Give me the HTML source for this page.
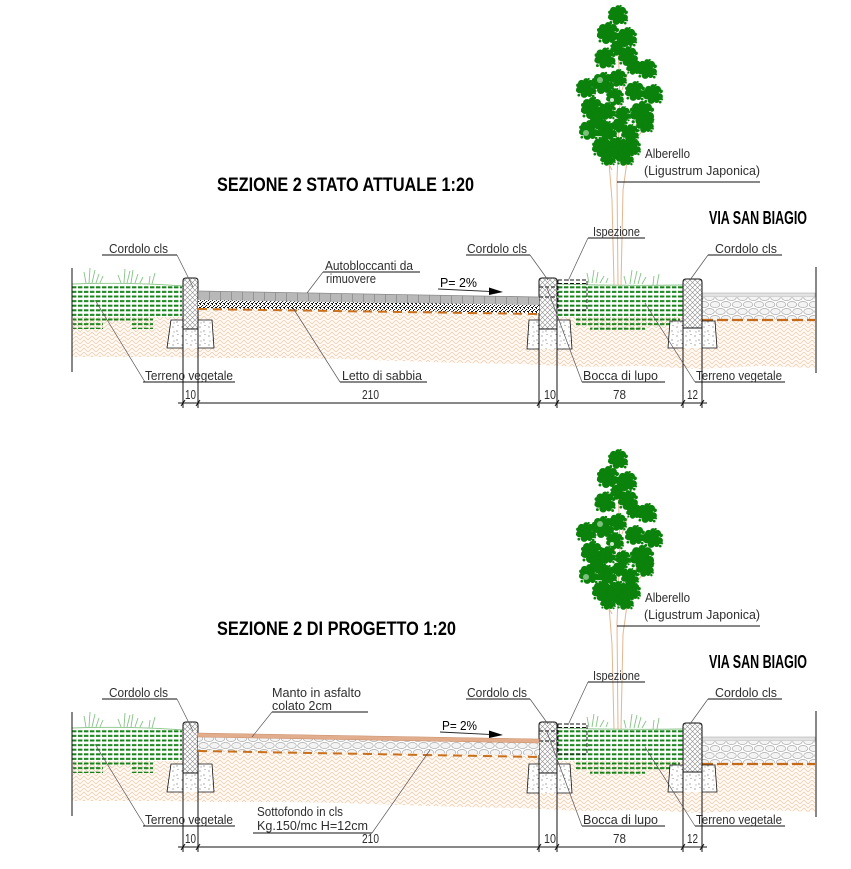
<!DOCTYPE html>
<html><head><meta charset="utf-8">
<style>
html,body{margin:0;padding:0;background:#fff}
svg{display:block}
text{font-family:"Liberation Sans",sans-serif}
.l{font-size:12.5px;fill:#2e2e2e}
.b{font-size:12.5px;fill:#000}
.t{font-size:19px;font-weight:bold;fill:#000}
</style></head>
<body>
<svg width="851" height="869" viewBox="0 0 851 869" xmlns="http://www.w3.org/2000/svg">
<defs>
  <pattern id="soil" width="8" height="8" patternUnits="userSpaceOnUse">
    <rect width="8" height="8" fill="#fffaf6"/>
    <path d="M0,8 L4,4 L8,8 M0,4 L4,0 L8,4" stroke="#f0c7a4" stroke-width="0.7" fill="none"/>
  </pattern>
  <pattern id="hatch" width="5" height="5" patternUnits="userSpaceOnUse">
    <rect width="5" height="5" fill="#fff"/>
    <path d="M0,0 L5,5 M5,0 L0,5" stroke="#8a8a8a" stroke-width="0.6"/>
  </pattern>
  <pattern id="stip" width="9" height="9" patternUnits="userSpaceOnUse">
    <rect width="9" height="9" fill="#fff"/>
    <circle cx="2" cy="3" r="0.55" fill="#333"/>
    <circle cx="6" cy="7" r="0.55" fill="#333"/>
    <circle cx="7" cy="1.5" r="0.45" fill="#555"/>
    <circle cx="3" cy="8" r="0.45" fill="#555"/>
  </pattern>
  <pattern id="grav" width="4" height="4" patternUnits="userSpaceOnUse">
    <rect width="4" height="4" fill="#fff"/>
    <rect x="0" y="0" width="1" height="1" fill="#111"/>
    <rect x="2" y="1" width="1.2" height="1" fill="#111"/>
    <rect x="1" y="2" width="1" height="1" fill="#111"/>
    <rect x="3" y="3" width="1" height="1" fill="#111"/>
    <rect x="0" y="3" width="1" height="1" fill="#111"/>
  </pattern>
  <pattern id="cob" width="11" height="14" patternUnits="userSpaceOnUse">
    <rect width="11" height="14" fill="#fff"/>
    <ellipse cx="5.5" cy="3.5" rx="4.8" ry="3" fill="#f4f4f4" stroke="#a8a8a8" stroke-width="0.7"/>
    <ellipse cx="0" cy="10.5" rx="4.8" ry="3" fill="#f4f4f4" stroke="#a8a8a8" stroke-width="0.7"/>
    <ellipse cx="11" cy="10.5" rx="4.8" ry="3" fill="#f4f4f4" stroke="#a8a8a8" stroke-width="0.7"/>
  </pattern>
  <pattern id="grn" width="6" height="4.6" patternUnits="userSpaceOnUse">
    <rect x="0" y="1.1" width="4.4" height="2" fill="#17841a"/>
  </pattern>
  <pattern id="joint" width="11" height="40" patternUnits="userSpaceOnUse">
    <path d="M0.5,0 V40" stroke="#8a8a8a" stroke-width="0.8"/>
  </pattern>
  <g id="lf" fill="#0b820b">
    <circle r="6.5"/><circle cx="-5" cy="-5" r="4"/><circle cx="5" cy="-5" r="4"/>
    <circle cx="-7" cy="2" r="4"/><circle cx="7" cy="3" r="4"/><circle cx="-2" cy="7" r="4"/>
    <circle cx="4" cy="7" r="3"/><circle cx="0" cy="-8" r="3"/><circle cx="-9" cy="-3" r="2"/>
    <circle cx="9" cy="-3" r="2"/><circle cx="-8" cy="8" r="1.5"/><circle cx="8" cy="9" r="1.5"/>
    <circle cx="-10" cy="3" r="1.2"/><circle cx="3" cy="-10" r="1.2"/><circle cx="10" cy="6" r="1.2"/>
  </g>
</defs>

<rect width="851" height="869" fill="#fff"/>

<g id="base">
  <!-- soil -->
  <path d="M72,316 L198,316 L198,300 L557,300 L557,316 L702,316 L702,300 L815,300 L815,368 L760,366 L700,369 L640,366 L580,367 L520,364 L460,363 L400,361 L340,359 L280,358 L220,358 L160,357 L110,357 L72,357 Z" fill="url(#soil)"/>
  <!-- green areas -->
  <rect x="72" y="285" width="110" height="32" fill="#fff"/>
  <rect x="72" y="285" width="110" height="33" fill="url(#grn)"/>
  <rect x="73" y="318" width="30" height="11" fill="url(#grn)"/>
  <rect x="103" y="318" width="29" height="5" fill="url(#grn)"/>
  <rect x="132" y="318" width="21" height="11" fill="url(#grn)"/>
  <rect x="558" y="285" width="125" height="32" fill="#fff"/>
  <rect x="558" y="285" width="125" height="33" fill="url(#grn)"/>
  <rect x="575" y="318" width="105" height="8" fill="url(#grn)"/>
  <rect x="590" y="326" width="55" height="4" fill="url(#grn)"/>
  <!-- grass -->
  <g stroke="#86c486" stroke-width="0.9" fill="none">
    <path d="M72,284 Q130,282 183,286"/>
    <path d="M557,284 Q620,286 683,285"/>
    <path d="M86,283 L84,272 M89,283 L90,268 M92,283 L95,270 M96,283 L99,274 M100,283 L103,276 M121,283 L118,275 M124,283 L125,269 M127,283 L130,271 M131,283 L133,270 M135,283 L138,274 M140,283 L143,277 M149,284 L150,276 M152,284 L155,273"/>
    <path d="M589,283 L587,273 M592,283 L594,270 M596,283 L598,272 M600,283 L604,276 M606,283 L608,278 M626,284 L624,276 M630,284 L632,270 M634,284 L637,271 M638,284 L641,273 M642,284 L646,277 M653,285 L654,276 M657,285 L659,274"/>
  </g>
  <!-- right road -->
  <rect x="702" y="293" width="113" height="4" fill="#e2e2e2" stroke="#a0a0a0" stroke-width="0.5"/>
  <rect x="702" y="297" width="113" height="22" fill="url(#cob)"/>
  <path d="M702,320 H815" stroke="#c46a18" stroke-width="2.2" stroke-dasharray="11 4"/>
  <!-- tree -->
  <g stroke="#e3b690" stroke-width="1" fill="none">
    <path d="M614,285 L612,200 L608,150 L600,120"/>
    <path d="M618,285 L617,180 L620,100 L618,40"/>
    <path d="M621,285 L623,190 L630,140 L640,115"/>
    <path d="M625,150 L648,125 M612,170 L596,140 M619,120 L606,80 M622,90 L632,60"/>
  </g>
  <g>
    <use href="#lf" transform="translate(618,15) scale(0.9)"/>
    <use href="#lf" transform="translate(608,33) scale(1.0)"/>
    <use href="#lf" transform="translate(627,37) scale(0.9)"/>
    <use href="#lf" transform="translate(618,48) scale(0.7)"/>
    <use href="#lf" transform="translate(605,58) scale(0.95)"/>
    <use href="#lf" transform="translate(628,56) scale(0.9)"/>
    <use href="#lf" transform="translate(647,69) scale(0.9)"/>
    <use href="#lf" transform="translate(634,67) scale(0.7)"/>
    <use href="#lf" transform="translate(586,88) scale(0.9)"/>
    <use href="#lf" transform="translate(603,83) scale(1.0)"/>
    <use href="#lf" transform="translate(618,78) scale(0.8)"/>
    <use href="#lf" transform="translate(635,91) scale(0.9)"/>
    <use href="#lf" transform="translate(653,94) scale(0.9)"/>
    <use href="#lf" transform="translate(615,97) scale(0.8)"/>
    <use href="#lf" transform="translate(592,108) scale(1.0)"/>
    <use href="#lf" transform="translate(607,111) scale(0.8)"/>
    <use href="#lf" transform="translate(623,114) scale(0.7)"/>
    <use href="#lf" transform="translate(642,113) scale(1.1)"/>
    <use href="#lf" transform="translate(589,130) scale(0.9)"/>
    <use href="#lf" transform="translate(607,131) scale(0.9)"/>
    <use href="#lf" transform="translate(630,133) scale(0.8)"/>
    <use href="#lf" transform="translate(645,124) scale(0.8)"/>
    <use href="#lf" transform="translate(602,147) scale(0.9)"/>
    <use href="#lf" transform="translate(618,148) scale(1.0)"/>
    <use href="#lf" transform="translate(632,147) scale(0.8)"/>
    <use href="#lf" transform="translate(608,158) scale(0.7)"/>
    <use href="#lf" transform="translate(625,157) scale(0.8)"/>
    <use href="#lf" transform="translate(598,120) scale(0.8)"/>
    <use href="#lf" transform="translate(620,125) scale(0.7)"/>
    <circle cx="600" cy="80" r="3" fill="#7dbf7d"/>
    <circle cx="586" cy="133" r="3" fill="#7dbf7d"/>
    <circle cx="612" cy="100" r="2" fill="#cfe6cf"/>
  </g>

  <!-- curbs -->
  <g>
    <rect x="183" y="278" width="15" height="51" rx="3" fill="url(#hatch)"/>
    <rect x="183" y="329" width="15" height="19" fill="url(#stip)"/>
    <rect x="539" y="278" width="18" height="51" rx="3" fill="url(#hatch)"/>
    <rect x="539" y="329" width="18" height="20" fill="url(#stip)"/>
    <rect x="683" y="279" width="19" height="49" rx="3" fill="url(#hatch)"/>
    <rect x="683" y="328" width="19" height="20" fill="url(#stip)"/>
  </g>
  <!-- foundations -->
  <g stroke="#111" stroke-width="0.8" fill="url(#stip)">
    <path d="M171,320 L183,320 L183,348 L167,348 Z"/>
    <path d="M198,320 L212,320 L214,348 L198,348 Z"/>
    <path d="M529,320 L539,320 L539,349 L527,349 Z"/>
    <path d="M557,320 L570,320 L572,349 L557,349 Z"/>
    <path d="M670,321 L683,321 L683,348 L668,348 Z"/>
    <path d="M702,321 L715,321 L717,348 L702,348 Z"/>
  </g>
  <!-- curb outlines + extension lines -->
  <g stroke="#111" stroke-width="1" fill="none">
    <path d="M183,408 V281 Q183,278 186,278 H195 Q198,278 198,281 V408"/>
    <path d="M183,329 H198"/>
    <path d="M539,408 V281 Q539,278 542,278 H554 Q557,278 557,281 V408"/>
    <path d="M539,329 H557"/>
    <path d="M683,408 V282 Q683,279 686,279 H699 Q702,279 702,282 V408"/>
    <path d="M683,328 H702"/>
    <path d="M72,268 V372"/>
    <path d="M816,267 V373"/>
    <path d="M178,403 H707"/>
    <path d="M181,406 L185,400 M196,406 L200,400 M537,406 L541,400 M555,406 L559,400 M681,406 L685,400 M700,406 L704,400"/>
  </g>
  <g stroke="#111" stroke-width="0.9" fill="none" stroke-dasharray="4 2">
    <path d="M539,287 H557 M539,297 H557"/>
    <rect x="558" y="280" width="29" height="30"/>
    <path d="M558,283.5 H587"/>
  </g>
  <!-- leaders -->
  <g stroke="#555" stroke-width="0.7" fill="none">
    <path d="M177,255 L193,287"/>
    <path d="M145,382 L95,300"/>
    <path d="M530,255 L548,280"/>
    <path d="M582,382 L547,288"/>
    <path d="M588,238 L568,281"/>
    <path d="M708,255 L690,280"/>
    <path d="M695,382 L645,303"/>
  </g>
  <!-- underlines -->
  <g stroke="#111" stroke-width="1">
    <path d="M102,255 H177 M466,255 H530 M588,238 H645 M708,255 H782 M617,182 H760 M143,382 H235 M582,382 H665 M695,382 H785"/>
  </g>
</g>
<use href="#base" transform="translate(0,444)"/>

<!-- TOP road layers -->
<polygon points="198,291 539,297 539,305 198,300" fill="#b8b8b8"/>
<polygon points="198,291 539,297 539,305 198,300" fill="url(#joint)"/>
<path d="M198,291 L539,297" stroke="#8a8a8a" stroke-width="0.8"/>
<polygon points="198,300 539,305 539,313 198,308" fill="url(#grav)"/>
<path d="M198,309 L539,314" stroke="#c8701e" stroke-width="2" stroke-dasharray="9 6"/>
<g stroke="#555" stroke-width="0.7" fill="none">
  <path d="M323,272 L307,293"/>
  <path d="M340,382 L293,308"/>
</g>
<path d="M323,272 H420 M340,382 H427" stroke="#111" stroke-width="1"/>
<path d="M438,289 L492,291.6" stroke="#222" stroke-width="0.9"/>
<polygon points="489,287.5 503,292 489,295" fill="#000"/>

<!-- BOTTOM road layers -->
<polygon points="198,737 539,743 539,755 198,750" fill="url(#cob)"/>
<polygon points="198,733 539,739 539,743 198,737" fill="#e2ad8c" stroke="#c98e6c" stroke-width="0.5"/>
<path d="M198,751 L539,757" stroke="#c8701e" stroke-width="2" stroke-dasharray="9 6"/>
<g stroke="#555" stroke-width="0.7" fill="none">
  <path d="M272,712 L252,737"/>
  <path d="M372,833 L430,750"/>
</g>
<path d="M272,712 H368 M253,833 H372" stroke="#111" stroke-width="1"/>
<path d="M440,732 L492,734.6" stroke="#222" stroke-width="0.9"/>
<polygon points="489,730.5 503,735 489,738" fill="#000"/>

<!-- TOP texts -->
<text class="t" x="217" y="191" textLength="257" lengthAdjust="spacingAndGlyphs">SEZIONE  2 STATO ATTUALE  1:20</text>
<text class="t" x="709" y="224" textLength="98" lengthAdjust="spacingAndGlyphs" style="font-size:18px">VIA SAN BIAGIO</text>
<text class="l" x="645" y="158" textLength="45" lengthAdjust="spacingAndGlyphs">Alberello</text>
<text class="l" x="644" y="175" textLength="116" lengthAdjust="spacingAndGlyphs">(Ligustrum  Japonica)</text>
<text class="l" x="109" y="253" textLength="59" lengthAdjust="spacingAndGlyphs">Cordolo  cls</text>
<text class="l" x="467" y="253" textLength="60" lengthAdjust="spacingAndGlyphs">Cordolo  cls</text>
<text class="l" x="715" y="253" textLength="62" lengthAdjust="spacingAndGlyphs">Cordolo  cls</text>
<text class="l" x="593" y="236" textLength="47" lengthAdjust="spacingAndGlyphs">Ispezione</text>
<text class="l" x="325" y="270" textLength="88" lengthAdjust="spacingAndGlyphs">Autobloccanti  da</text>
<text class="l" x="326" y="283" textLength="50" lengthAdjust="spacingAndGlyphs">rimuovere</text>
<text class="b" x="440" y="287" textLength="37" lengthAdjust="spacingAndGlyphs">P=  2%</text>
<text class="l" x="145" y="380" textLength="88" lengthAdjust="spacingAndGlyphs">Terreno  vegetale</text>
<text class="l" x="342" y="380" textLength="80" lengthAdjust="spacingAndGlyphs">Letto  di  sabbia</text>
<text class="l" x="583" y="380" textLength="75" lengthAdjust="spacingAndGlyphs">Bocca  di  lupo</text>
<text class="l" x="696" y="380" textLength="86" lengthAdjust="spacingAndGlyphs">Terreno  vegetale</text>
<text class="l" x="185" y="399" textLength="11" lengthAdjust="spacingAndGlyphs">10</text>
<text class="l" x="362" y="399" textLength="17" lengthAdjust="spacingAndGlyphs">210</text>
<text class="l" x="544" y="399" textLength="12" lengthAdjust="spacingAndGlyphs">10</text>
<text class="l" x="613" y="399" textLength="13" lengthAdjust="spacingAndGlyphs">78</text>
<text class="l" x="687" y="399" textLength="11" lengthAdjust="spacingAndGlyphs">12</text>

<!-- BOTTOM texts -->
<text class="t" x="217" y="635" textLength="239" lengthAdjust="spacingAndGlyphs">SEZIONE  2 DI PROGETTO  1:20</text>
<text class="t" x="709" y="668" textLength="98" lengthAdjust="spacingAndGlyphs" style="font-size:18px">VIA SAN BIAGIO</text>
<text class="l" x="645" y="602" textLength="45" lengthAdjust="spacingAndGlyphs">Alberello</text>
<text class="l" x="644" y="619" textLength="116" lengthAdjust="spacingAndGlyphs">(Ligustrum  Japonica)</text>
<text class="l" x="109" y="697" textLength="59" lengthAdjust="spacingAndGlyphs">Cordolo  cls</text>
<text class="l" x="467" y="697" textLength="60" lengthAdjust="spacingAndGlyphs">Cordolo  cls</text>
<text class="l" x="715" y="697" textLength="62" lengthAdjust="spacingAndGlyphs">Cordolo  cls</text>
<text class="l" x="593" y="680" textLength="47" lengthAdjust="spacingAndGlyphs">Ispezione</text>
<text class="l" x="272" y="697" textLength="89" lengthAdjust="spacingAndGlyphs">Manto  in  asfalto</text>
<text class="l" x="272" y="710" textLength="60" lengthAdjust="spacingAndGlyphs">colato  2cm</text>
<text class="b" x="442" y="730" textLength="35" lengthAdjust="spacingAndGlyphs">P=  2%</text>
<text class="l" x="257" y="816" textLength="86" lengthAdjust="spacingAndGlyphs">Sottofondo  in  cls</text>
<text class="l" x="257" y="830" textLength="111" lengthAdjust="spacingAndGlyphs">Kg.150/mc  H=12cm</text>
<text class="l" x="145" y="824" textLength="88" lengthAdjust="spacingAndGlyphs">Terreno  vegetale</text>
<text class="l" x="583" y="824" textLength="75" lengthAdjust="spacingAndGlyphs">Bocca  di  lupo</text>
<text class="l" x="696" y="824" textLength="86" lengthAdjust="spacingAndGlyphs">Terreno  vegetale</text>
<text class="l" x="185" y="843" textLength="11" lengthAdjust="spacingAndGlyphs">10</text>
<text class="l" x="362" y="843" textLength="17" lengthAdjust="spacingAndGlyphs">210</text>
<text class="l" x="544" y="843" textLength="12" lengthAdjust="spacingAndGlyphs">10</text>
<text class="l" x="613" y="843" textLength="13" lengthAdjust="spacingAndGlyphs">78</text>
<text class="l" x="687" y="843" textLength="11" lengthAdjust="spacingAndGlyphs">12</text>
</svg>
</body></html>
